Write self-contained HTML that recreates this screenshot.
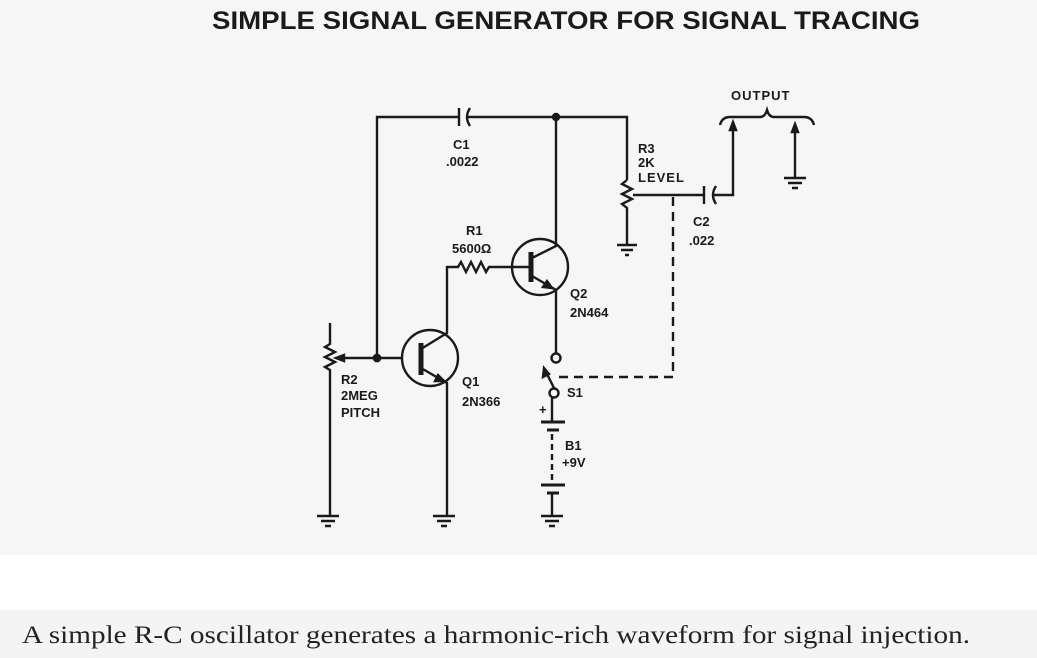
<!DOCTYPE html>
<html><head><meta charset="utf-8"><style>
html,body{margin:0;padding:0;width:1037px;height:658px;overflow:hidden;background:#f5f5f5}
</style></head><body>
<svg width="1037" height="658" viewBox="0 0 1037 658" xmlns="http://www.w3.org/2000/svg">
<rect x="0" y="0" width="1037" height="555" fill="#f6f6f6"/>
<rect x="0" y="555" width="1037" height="55" fill="#ffffff"/>
<rect x="0" y="610" width="1037" height="48" fill="#f4f4f4"/>
<text x="212" y="29" font-family="Liberation Sans, sans-serif" font-weight="bold" font-size="25" textLength="708" lengthAdjust="spacingAndGlyphs" fill="#1a1a1a">SIMPLE SIGNAL GENERATOR FOR SIGNAL TRACING</text>
<g stroke="#1a1a1a" stroke-width="2.4" fill="none">
<path d="M377 358 V117 H459 M467 117 H627 V180"/>
<path d="M459 108 V126"/><path d="M470 108 Q464 117 470 126"/>
<circle cx="556" cy="117" r="3" fill="#1a1a1a"/>
<path d="M627 180 l-5 4 l10 5 l-10 5 l10 5 l-10 5 l5 4 V245"/>
<path d="M617 245 h20 M621 250 h12 M625 255 h4"/>
<path d="M633 195 H704 M712 195 H733 V125"/>
<path d="M704 186 V204"/><path d="M716 186 Q710 195 716 204"/>
<path d="M733 122 l-3 8 h6 z" fill="#1a1a1a"/>
<path d="M720 125 q2-8 10-8 h30 q5 0 7-7 q2 7 7 7 h30 q8 0 10 8"/>
<path d="M795 128 V178"/><path d="M795 124 l-3 8 h6 z" fill="#1a1a1a"/>
<path d="M784 178 h22 M788 183 h14 M792 188 h6"/>
<circle cx="540" cy="267" r="28"/>
<path d="M556 117 V246 L532 258"/>
<path d="M531 252 V282" stroke-width="5"/>
<path d="M447 330 V267 H458 l3 -5 l5 10 l5 -10 l5 10 l5 -10 l5 10 l3 -5 H531"/>
<path d="M532 276 L556 290 V353"/>
<path d="M552 288 l-9 -1 l4 -6 z" fill="#1a1a1a"/>
<circle cx="556" cy="358" r="4.5"/>
<circle cx="554" cy="393" r="4.5"/>
<path d="M554 388 L546 372"/><path d="M544 368 l-1 9 l6 -3 z" fill="#1a1a1a"/>
<path d="M552 398 V422"/>
<path d="M541 422 h24 M547 430 h12" stroke-width="3"/>
<path d="M552 434 V482" stroke-dasharray="6 4"/>
<path d="M541 485 h24 M547 493 h12" stroke-width="3"/>
<path d="M552 493 V516"/>
<path d="M541 516 h22 M545 521 h14 M549 526 h6"/>
<path d="M559 377 H673 V197" stroke-dasharray="9 6"/>
<circle cx="430" cy="358" r="28"/>
<path d="M336 358 H402"/>
<circle cx="377" cy="358" r="3.2" fill="#1a1a1a"/>
<path d="M336 358 l8 -3 v6 z" fill="#1a1a1a"/>
<path d="M421 343 V375" stroke-width="5"/>
<path d="M421 349 L447 333 V330"/>
<path d="M421 368 L447 383 V516"/>
<path d="M444 381 l-9 0 l3 -6 z" fill="#1a1a1a"/>
<path d="M433 516 h22 M437 521 h14 M441 526 h6"/>
<path d="M330 323 V344 l-5 3 l10 5 l-10 5 l10 5 l-10 5 l5 3 V516"/>
<path d="M317 516 h22 M321 521 h14 M325 526 h6"/>
</g>
<g font-family="Liberation Sans, sans-serif" font-weight="bold" font-size="13" fill="#1a1a1a">
<text x="453" y="149">C1</text>
<text x="446" y="166">.0022</text>
<text x="466" y="235">R1</text>
<text x="452" y="253">5600Ω</text>
<text x="638" y="153">R3</text>
<text x="638" y="167">2K</text>
<text x="638" y="182" letter-spacing="1">LEVEL</text>
<text x="693" y="226">C2</text>
<text x="689" y="245">.022</text>
<text x="731" y="100" letter-spacing="1">OUTPUT</text>
<text x="570" y="298">Q2</text>
<text x="570" y="317">2N464</text>
<text x="462" y="386">Q1</text>
<text x="462" y="406">2N366</text>
<text x="341" y="384">R2</text>
<text x="341" y="400">2MEG</text>
<text x="341" y="417">PITCH</text>
<text x="567" y="397">S1</text>
<text x="539" y="414">+</text>
<text x="565" y="450">B1</text>
<text x="562" y="467">+9V</text>
</g>
<text x="22" y="643" font-family="Liberation Serif, serif" font-size="25" textLength="948" lengthAdjust="spacingAndGlyphs" fill="#222">A simple R-C oscillator generates a harmonic-rich waveform for signal injection.</text>
</svg>
</body></html>
